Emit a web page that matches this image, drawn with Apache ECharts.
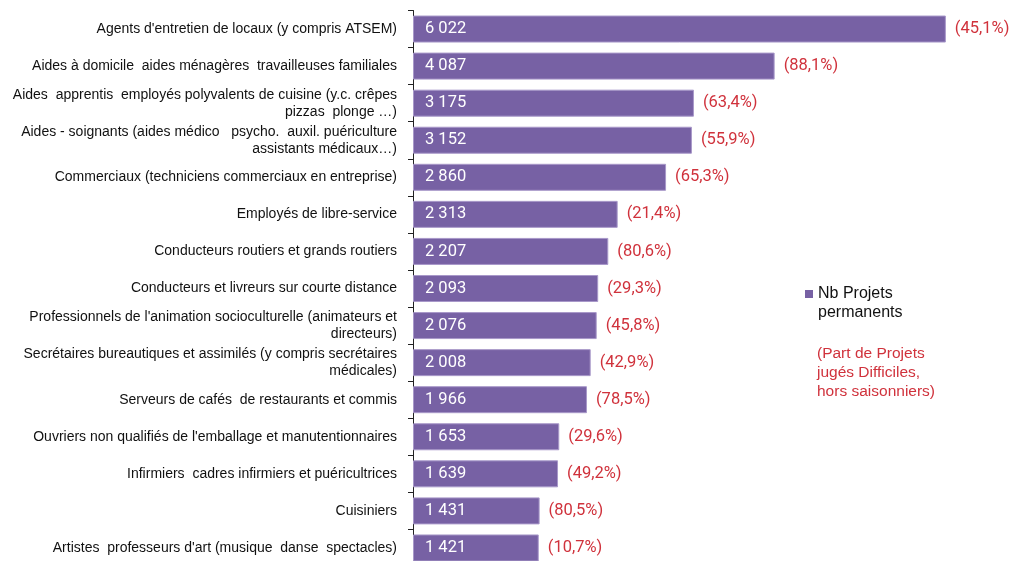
<!DOCTYPE html>
<html><head><meta charset="utf-8">
<script src="https://cdn.jsdelivr.net/npm/echarts@6/dist/echarts.min.js"></script>
<style>html,body{margin:0;padding:0;background:#fff}#c{width:1011px;height:561px}</style>
</head><body><div id="c"></div>
<script>
const categories = [
  "Agents d'entretien de locaux (y compris ATSEM)",
  "Aides à domicile  aides ménagères  travailleuses familiales",
  "Aides  apprentis  employés polyvalents de cuisine (y.c. crêpes\npizzas  plonge …)",
  "Aides - soignants (aides médico   psycho.  auxil. puériculture\nassistants médicaux…)",
  "Commerciaux (techniciens commerciaux en entreprise)",
  "Employés de libre-service",
  "Conducteurs routiers et grands routiers",
  "Conducteurs et livreurs sur courte distance",
  "Professionnels de l'animation socioculturelle (animateurs et\ndirecteurs)",
  "Secrétaires bureautiques et assimilés (y compris secrétaires\nmédicales)",
  "Serveurs de cafés  de restaurants et commis",
  "Ouvriers non qualifiés de l'emballage et manutentionnaires",
  "Infirmiers  cadres infirmiers et puéricultrices",
  "Cuisiniers",
  "Artistes  professeurs d'art (musique  danse  spectacles)"
];
const projets = [6022, 4087, 3175, 3152, 2860, 2313, 2207, 2093, 2076, 2008, 1966, 1653, 1639, 1431, 1421];
const partDifficiles = ["45,1", "88,1", "63,4", "55,9", "65,3", "21,4", "80,6", "29,3", "45,8", "42,9", "78,5", "29,6", "49,2", "80,5", "10,7"];
const seriesName = "Nb Projets\npermanents";
const noteText = "(Part de Projets\njugés Difficiles,\nhors saisonniers)";

const fmtNum = v => String(v).replace(/\B(?=(\d{3})+(?!\d))/g, ' ');

const chart = echarts.init(document.getElementById('c'), null, {renderer: 'canvas'});
chart.setOption({
  animation: false,
  backgroundColor: '#fff',
  grid: {left: 413, width: 584, top: 10.5, height: 556, containLabel: false, outerBoundsMode: 'none'},
  xAxis: {type: 'value', min: 0, max: 6600, show: false},
  yAxis: {
    type: 'category', data: categories, inverse: true,
    axisLine: {show: true, lineStyle: {color: '#222', width: 1}},
    axisTick: {show: true, length: 5, lineStyle: {color: '#222'}},
    axisLabel: {fontFamily: 'Liberation Sans', fontSize: 14, color: '#111', margin: 16, lineHeight: 17, align: 'right'}
  },
  legend: {
    data: [seriesName], left: 805, top: 284.5, orient: 'vertical', padding: 0,
    icon: 'path://M0,0h0.05v0.05h-0.05z M0,5.5h8v8h-8z M7.95,37.95h0.05v0.05h-0.05z',
    itemWidth: 8, itemHeight: 38, itemGap: 4,
    itemStyle: {borderWidth: 0},
    textStyle: {fontFamily: 'Liberation Sans', fontSize: 16, color: '#111', lineHeight: 19}
  },
  graphic: [{
    type: 'text', left: 817, top: 344,
    style: {text: noteText, fontFamily: 'Liberation Sans', fontSize: 15.5, lineHeight: 19, fill: '#d0323c'}
  }],
  series: [{
    name: seriesName, type: 'bar', data: projets, barWidth: 27,
    itemStyle: {color: '#7761a4', borderColor: '#a898c9', borderWidth: 1},
    label: {show: true, position: 'insideLeft', distance: 12, color: '#fff', fontFamily: 'Roboto', fontSize: 16.5,
      formatter: p => fmtNum(p.value)}
  }, {
    name: 'pct', type: 'bar', data: projets, barWidth: 27, barGap: '-100%',
    itemStyle: {color: 'rgba(0,0,0,0)'}, silent: true,
    label: {show: true, position: 'right', distance: 9, color: '#d0323c', fontFamily: 'Roboto', fontSize: 16.5,
      formatter: p => '(' + partDifficiles[p.dataIndex] + '%)'}
  }]
});
</script></body></html>
